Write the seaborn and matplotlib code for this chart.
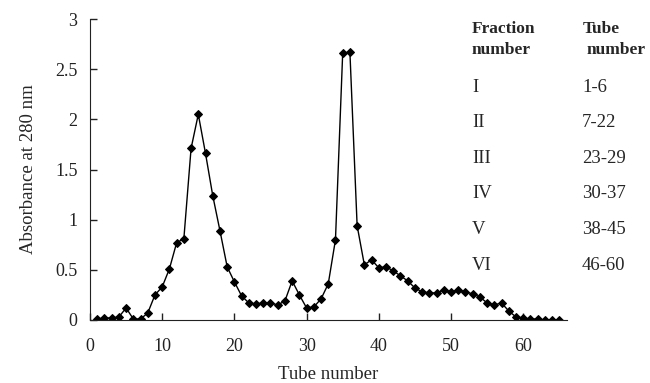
from matplotlib import pyplot as plt
import seaborn as sns
import pandas as pd

tube = list(range(1, 66))
absorbance = [
    0.01, 0.02, 0.02, 0.03, 0.12, 0.01, 0.01, 0.07, 0.25, 0.33,
    0.51, 0.77, 0.81, 1.71, 2.05, 1.66, 1.24, 0.89, 0.53, 0.38,
    0.24, 0.17, 0.16, 0.17, 0.17, 0.15, 0.19, 0.39, 0.25, 0.12,
    0.13, 0.21, 0.36, 0.80, 2.66, 2.67, 0.94, 0.55, 0.60, 0.52,
    0.53, 0.49, 0.44, 0.39, 0.32, 0.28, 0.27, 0.27, 0.30, 0.28,
    0.30, 0.28, 0.26, 0.23, 0.17, 0.15, 0.17, 0.09, 0.03, 0.02,
    0.01, 0.01, 0.00, 0.00, 0.00,
]
fractions = ['I', 'II', 'III', 'IV', 'V', 'VI']
tube_ranges = ['1-6', '7-22', '23-29', '30-37', '38-45', '46-60']
x_ticks = [0, 10, 20, 30, 40, 50, 60]
y_ticks = [0, 0.5, 1, 1.5, 2, 2.5, 3]
y_tick_labels = ['0', '0.5', '1', '1.5', '2', '2.5', '3']

df = pd.DataFrame({'tube': tube, 'absorbance': absorbance})

sns.set_style('ticks')
plt.rcParams['font.family'] = ['Liberation Serif', 'DejaVu Serif']
plt.rcParams['axes.edgecolor'] = '#222222'

W, H = 650, 383
fig = plt.figure(figsize=(6.5, 3.83), dpi=100)
ax = fig.add_axes([90 / W, 1 - 320 / H, 476.5 / W, 301 / H])

sns.lineplot(
    data=df, x='tube', y='absorbance', ax=ax,
    color='black', linewidth=1.0,
    marker='D', markersize=4.5, markeredgecolor='black', markerfacecolor='black',
)

ax.set_xlim(0, 66)
ax.set_ylim(0, 3)
ax.set_xticks(x_ticks)
ax.set_yticks(y_ticks)
ax.set_yticklabels(y_tick_labels)
ax.tick_params(axis='both', direction='in', length=5, width=1,
               labelsize=13, colors='#222222')
ax.tick_params(axis='x', pad=13)
ax.tick_params(axis='y', pad=9)
sns.despine(ax=ax)

ax.set_xlabel('Tube number', fontsize=13.5, labelpad=8)
ax.set_ylabel('Absorbance at 280 nm', fontsize=13.5, labelpad=13)

# fraction table on the right
def fig_text(px, py, s, size=13.5, **kw):
    fig.text(px / W, 1 - py / H, s, va='center', ha='left', fontsize=size, **kw)

fig_text(472, 29, 'Fraction', size=12.5, fontweight='bold')
fig_text(472, 50, 'number', size=12.5, fontweight='bold')
fig_text(583, 29, 'Tube', size=12.5, fontweight='bold')
fig_text(587, 50, 'number', size=12.5, fontweight='bold')
for i, (f, r) in enumerate(zip(fractions, tube_ranges)):
    fig_text(472, 87 + i * 35.6, f)
    fig_text(582, 87 + i * 35.6, r)

plt.savefig('out.png', dpi=100)
plt.close()
